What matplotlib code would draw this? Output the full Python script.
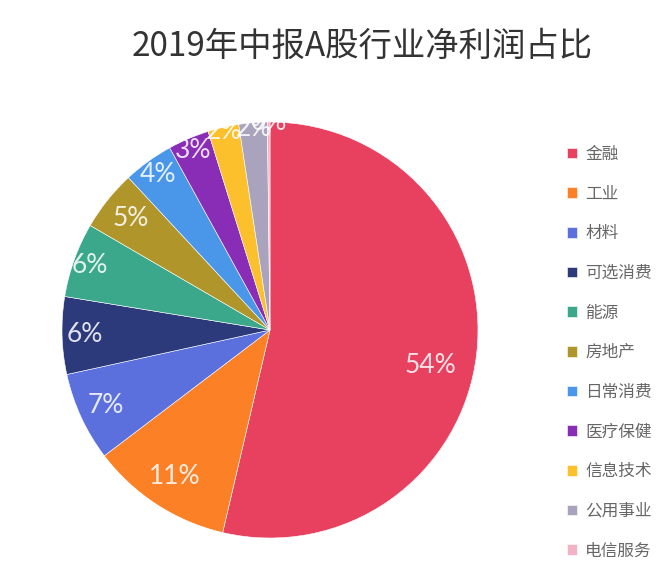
import matplotlib
matplotlib.use("Agg")
import matplotlib.pyplot as plt
import numpy as np

plt.rcParams['font.family'] = ['Noto Sans CJK SC', 'DejaVu Sans']

title = "2019年中报A股行业净利润占比"
categories = ["金融", "工业", "材料", "可选消费", "能源", "房地产",
              "日常消费", "医疗保健", "信息技术", "公用事业", "电信服务"]
values = [53.6, 11.0, 6.9, 6.0, 5.8, 4.7, 3.9, 3.2, 2.4, 2.2, 0.2]
labels = ["54%", "11%", "7%", "6%", "6%", "5%", "4%", "3%", "2%", "2%", "0%"]

colors = ["#e8405f", "#fb8026", "#5b70dc", "#2c397a", "#3ca88b", "#b0952b",
          "#4a97ea", "#8a2db6", "#fcc02c", "#a9a3bd", "#f2b3c6"]
label_r = [0.79, 0.84, 0.87, 0.89, 0.92, 0.86, 0.92, 0.94, 0.98, 0.97, 1.0]
label_da = [-6, 0, 0, 0, 0, 0, 0, 0, 0, 0, 0]

fig = plt.figure(figsize=(6.65, 5.74), dpi=100)
ax = fig.add_axes([0.0932, 0.0627, 0.6256, 0.7247])

wedges, _ = ax.pie(values, colors=colors, startangle=90, counterclock=False,
                   radius=1.0, wedgeprops=dict(edgecolor="white", linewidth=0.4))

for w, lab, r, da in zip(wedges, labels, label_r, label_da):
    ang = np.deg2rad((w.theta1 + w.theta2) / 2.0 + da)
    ax.text(r * np.cos(ang), r * np.sin(ang), lab, ha="center", va="center",
            fontsize=19, color="white", alpha=0.85, family=["Lato", "DejaVu Sans"])

ax.set_xlim(-1, 1)
ax.set_ylim(-1, 1)
ax.set_aspect("equal")
ax.axis("off")

fig.text(0.545, 0.92, title, ha="center", va="center", fontsize=24,
         color="#333333", fontweight="light")

leg = fig.legend(wedges, categories, loc="upper left", bbox_to_anchor=(0.83, 0.772),
                 frameon=False, fontsize=12, labelspacing=1.36, handlelength=0.6,
                 handleheight=0.6, handletextpad=0.5, labelcolor="#666666")

fig.savefig("out.png", dpi=100, facecolor="white")
